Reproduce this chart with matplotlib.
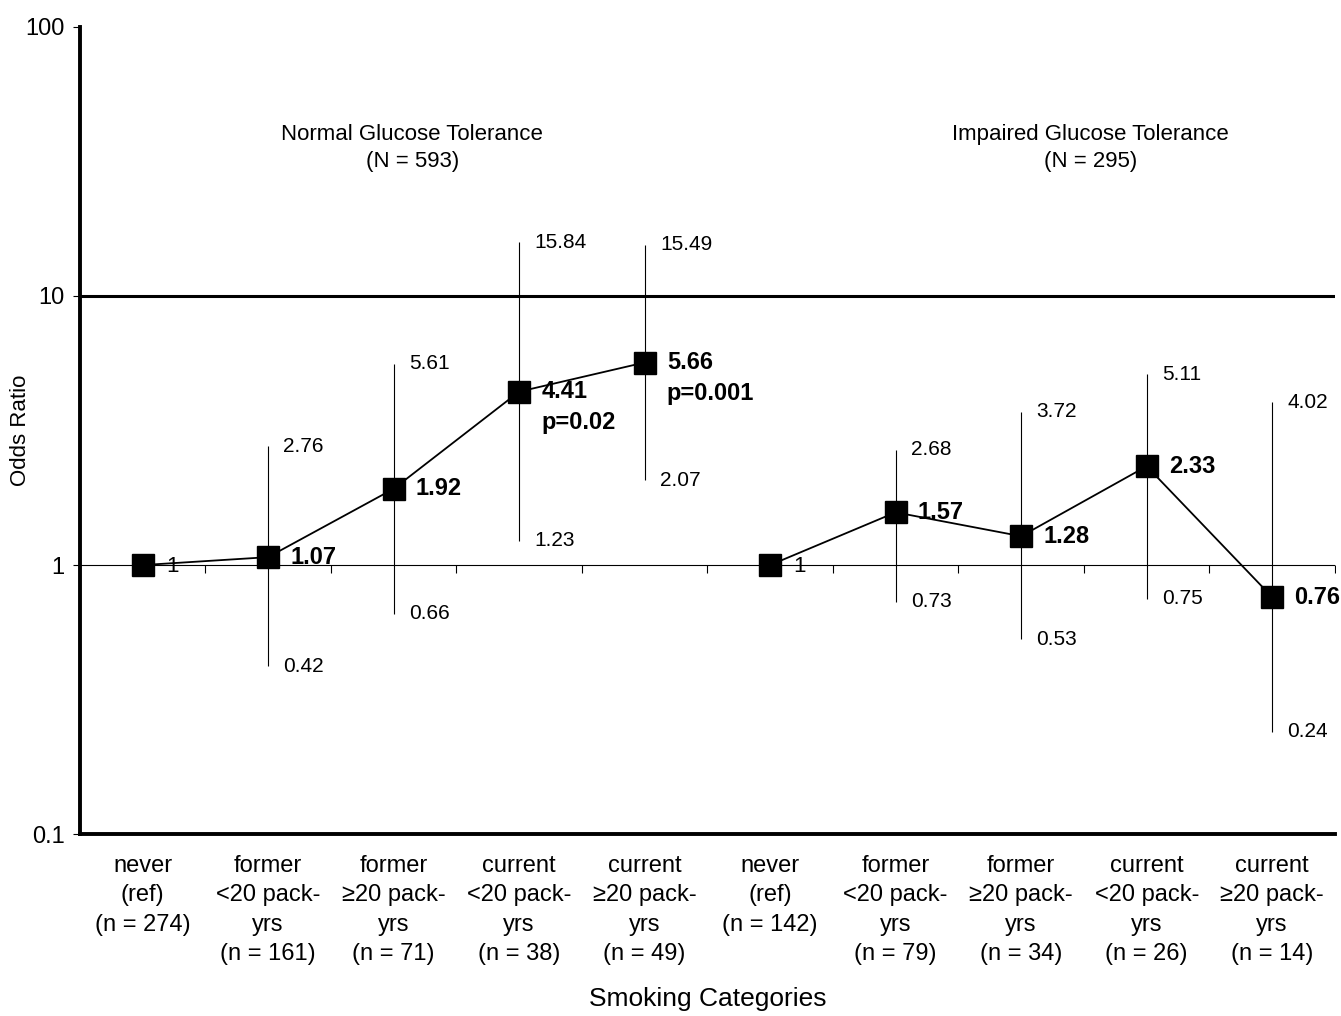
import numpy as np
import matplotlib
matplotlib.use('Agg')
from matplotlib import pyplot as plt
from matplotlib.ticker import FixedLocator, NullLocator

plt.rcParams['font.family'] = ['Liberation Sans', 'DejaVu Sans']

# data
categories = [
    'never\n(ref)\n(n = 274)',
    'former\n<20 pack-\nyrs\n(n = 161)',
    'former\n≥20 pack-\nyrs\n(n = 71)',
    'current\n<20 pack-\nyrs\n(n = 38)',
    'current\n≥20 pack-\nyrs\n(n = 49)',
    'never\n(ref)\n(n = 142)',
    'former\n<20 pack-\nyrs\n(n = 79)',
    'former\n≥20 pack-\nyrs\n(n = 34)',
    'current\n<20 pack-\nyrs\n(n = 26)',
    'current\n≥20 pack-\nyrs\n(n = 14)',
]
ngt_or = [1, 1.07, 1.92, 4.41, 5.66]
ngt_low = [None, 0.42, 0.66, 1.23, 2.07]
ngt_high = [None, 2.76, 5.61, 15.84, 15.49]
ngt_p = [None, None, None, 'p=0.02', 'p=0.001']

igt_or = [1, 1.57, 1.28, 2.33, 0.76]
igt_low = [None, 0.73, 0.53, 0.75, 0.24]
igt_high = [None, 2.68, 3.72, 5.11, 4.02]
igt_p = [None, None, None, None, None]

group_titles = ['Normal Glucose Tolerance\n(N = 593)', 'Impaired Glucose Tolerance\n(N = 295)']

fig = plt.figure(figsize=(13.41, 10.16), dpi=100)
ax = fig.add_axes([0.0595, 0.179, 0.936, 0.7945])
ax.set_yscale('log')
ax.set_ylim(0.1, 100)
ax.set_xlim(-0.5, 9.5)

# reference lines
ax.axhline(10, color='black', lw=2.2, zorder=1)
ax.axhline(1, color='black', lw=0.8, zorder=1)
bounds = np.arange(11) - 0.5
ax.plot(bounds, np.ones(len(bounds)), linestyle='none', marker=3, markersize=6,
        markeredgewidth=0.8, color='black', zorder=1)

groups = [
    (np.arange(0, 5), ngt_or, ngt_low, ngt_high, ngt_p),
    (np.arange(5, 10), igt_or, igt_low, igt_high, igt_p),
]

for xs, ors, lows, highs, ps in groups:
    for x, o, lo, hi, p in zip(xs, ors, lows, highs, ps):
        if lo is not None:
            ax.vlines(x, lo, hi, color='black', lw=0.8, zorder=2)
            ax.annotate(f'{hi:.2f}', (x, hi), xytext=(11, 0), textcoords='offset points',
                        ha='left', va='center', fontsize=15)
            ax.annotate(f'{lo:.2f}', (x, lo), xytext=(11, 0), textcoords='offset points',
                        ha='left', va='center', fontsize=15)
            ax.annotate(f'{o:.2f}', (x, o), xytext=(16, 0), textcoords='offset points',
                        ha='left', va='center', fontsize=17, fontweight='bold', zorder=5)
        else:
            ax.annotate('1', (x, o), xytext=(17, -1), textcoords='offset points',
                        ha='left', va='center', fontsize=16, zorder=5)
        if p is not None:
            ax.annotate(p, (x, o), xytext=(16, -22), textcoords='offset points',
                        ha='left', va='center', fontsize=17, fontweight='bold', zorder=5)
    ax.plot(xs, ors, color='black', lw=1.3, marker='s', markersize=16.5,
            markerfacecolor='black', markeredgecolor='black', zorder=4)

ax.text(2.15, 35.5, group_titles[0], ha='center', va='center', fontsize=16, linespacing=1.35)
ax.text(7.55, 35.5, group_titles[1], ha='center', va='center', fontsize=16, linespacing=1.35)

# axes styling
for s in ['top', 'right']:
    ax.spines[s].set_visible(False)
ax.spines['left'].set_linewidth(2.8)
ax.spines['bottom'].set_linewidth(2.8)

ax.yaxis.set_major_locator(FixedLocator([0.1, 1, 10, 100]))
ax.yaxis.set_minor_locator(NullLocator())
ax.set_yticklabels(['0.1', '1', '10', '100'])
ax.tick_params(axis='y', which='major', length=5, width=0.8, pad=6, labelsize=17)

ax.set_xticks(np.arange(10))
ax.set_xticklabels(categories, fontsize=17, linespacing=1.43, va='top')
ax.tick_params(axis='x', length=0, pad=15)

ax.set_ylabel('Odds Ratio', fontsize=16)
ax.yaxis.set_label_coords(-0.039, 0.5)
ax.set_xlabel('Smoking Categories', fontsize=19, labelpad=16)

fig.savefig('out.png', dpi=100)
